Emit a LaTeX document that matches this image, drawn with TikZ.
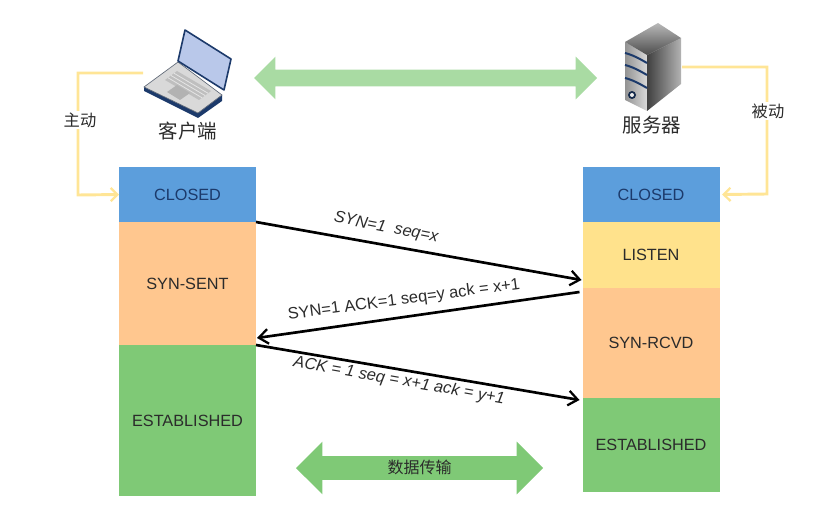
\documentclass[tikz,border=0pt]{standalone}
\usepackage{fontspec}
\setmainfont{Liberation Sans}
\newfontfamily\cjk{Noto Sans CJK SC}
\usetikzlibrary{arrows.meta,shapes.arrows}

\definecolor{closedblue}{HTML}{5C9EDC}
\definecolor{waitorange}{HTML}{FFC78F}
\definecolor{listenyellow}{HTML}{FFE28C}
\definecolor{estgreen}{HTML}{7FC976}
\definecolor{linkyellow}{HTML}{FFE596}
\definecolor{paleband}{HTML}{A9DBA3}
\definecolor{darkblue}{HTML}{1C3A6B}
\definecolor{screenblue}{HTML}{B9C8EA}
\definecolor{textgray}{HTML}{2B2B2B}

\tikzset{
  statebox/.style={draw=none,fill=#1,inner sep=0pt,outer sep=0pt,minimum width=102.75pt,
    text=textgray,font=\fontsize{12.2pt}{14pt}\selectfont},
  boxh/.style={minimum height=#1*0.75pt},
  msg/.style={draw=black,line width=2pt,-{Straight Barb[length=7pt,width=11pt,line width=1.7pt]}},
  msglabel/.style={inner sep=0pt,text=textgray,font=\fontsize{12.3pt}{14pt}\selectfont},
  hostlabel/.style={inner sep=0pt,text=textgray,font=\cjk\fontsize{14.6pt}{18pt}\selectfont},
  linklabel/.style={fill=white,inner sep=1.5pt,text=textgray,font=\cjk\fontsize{12.2pt}{14pt}\selectfont},
  link/.style={draw=linkyellow,line width=2.2pt,-{Straight Barb[length=5pt,width=10pt,line width=1.7pt]}},
  band/.style={double arrow,double arrow tip angle=90,draw=none,inner sep=0pt,fill=#1},
}

\begin{document}
\begin{tikzpicture}[x=0.75pt,y=-0.75pt]
\useasboundingbox (0,0) rectangle (834,531);

% States on the client side
\node[statebox=closedblue,boxh=55,text=darkblue] (closedA) at (187.5,194.5) {CLOSED};
\node[statebox=waitorange,boxh=123] (synsentA) at (187.5,283.5) {SYN-SENT};
\node[statebox=estgreen,boxh=151] (establishedA) at (187.5,420.5) {ESTABLISHED};

% States on the server side
\node[statebox=closedblue,boxh=55,text=darkblue] (closedB) at (651,194.5) {CLOSED};
\node[statebox=listenyellow,boxh=66] (listenB) at (651,255) {LISTEN};
\node[statebox=waitorange,boxh=110] (synrcvdB) at (651,343) {SYN-RCVD};
\node[statebox=estgreen,boxh=94] (establishedB) at (651,445) {ESTABLISHED};

% Wide double arrows
\node[band=paleband,minimum height=257.25pt,minimum width=31.5pt,text height=12pt,text depth=0pt,
  double arrow head extend=9.75pt] (linkband) at (425.5,78) {};
\node[band=estgreen,minimum height=185.25pt,minimum width=39pt,text height=12.9pt,text depth=4.35pt,
  double arrow head extend=10.9pt,text=textgray,font=\cjk\fontsize{12pt}{14pt}\selectfont] (databand) at (419.5,468) {数据传输};

% Laptop
\fill[darkblue] (144,87) -- (144,91) -- (198,118) -- (222,101) -- (222,95) -- cycle;
\fill[gray!30,draw=gray!70!darkblue,line width=0.5pt] (144,87) -- (178,62) -- (222,95) -- (198,113) -- cycle;
\fill[gray!50] (165,80) -- (177,71) -- (211,91) -- (199,100) -- cycle;
\foreach \t in {0.25,0.5,0.75}
  \draw[gray!20,line width=0.6pt] (165+12*\t,80-9*\t) -- (199+12*\t,100-9*\t);
\fill[gray!60] (167,92) -- (177,85) -- (190,93) -- (180,100) -- cycle;
\fill[screenblue,draw=darkblue,line width=1.2pt,line join=round] (178,61) -- (185,30) -- (231,59) -- (224,90) -- cycle;
\coordinate (laptop) at (143,73);

% Server
\shade[left color=gray!85,right color=gray!30] (625,42) -- (647,55) -- (647,111) -- (625,100) -- cycle;
\shade[left color=black!75,right color=gray!60] (647,55) -- (681,38) -- (681,84) -- (647,111) -- cycle;
\shade[top color=gray!55,bottom color=black!70] (625,42) -- (658,23) -- (681,38) -- (647,55) -- cycle;
\foreach \y in {53,65,78}
  \draw[darkblue,line width=1.5pt] (625,\y) .. controls (633,\y+2) and (640,\y+6) .. (647,\y+10);
\fill[darkblue!70!black] (632,95) circle (4);
\fill[gray!15] (632,95) circle (2);
\coordinate (server) at (682,67);

% Host names
\node[hostlabel] (clientname) at (188,131) {客户端};
\node[hostlabel] (servername) at (652,125) {服务器};

% Open and listen links
\draw[link] (laptop) -- (78,73) -- (78,195) -- (closedA.west);
\draw[link] (server) -- (767,67) -- (767,194) -- ([xshift=2pt]closedB.east);
\node[linklabel] (activelabel) at (80,120) {主动};
\node[linklabel] (passivelabel) at (768,111) {被动};

% Handshake
\draw[msg] (synsentA.north east) -- ([shift={(-1,-8)}]listenB.south west);
\draw[msg] ([shift={(-3,4)}]synrcvdB.north west) -- ([shift={(1,-7)}]establishedA.north east);
\draw[msg] (establishedA.north east) -- ([shift={(-3,2)}]establishedB.north west);
\node[msglabel,rotate=-11] (synlabel) at (386,228) {\itshape SYN=1\ \ seq=x};
\node[msglabel,rotate=7.5] (synacklabel) at (404,300) {SYN=1 ACK=1 seq=y ack = x+1};
\node[msglabel,rotate=-10] (acklabel) at (399,381) {\itshape ACK = 1 seq = x+1 ack = y+1};

\end{tikzpicture}
\end{document}
